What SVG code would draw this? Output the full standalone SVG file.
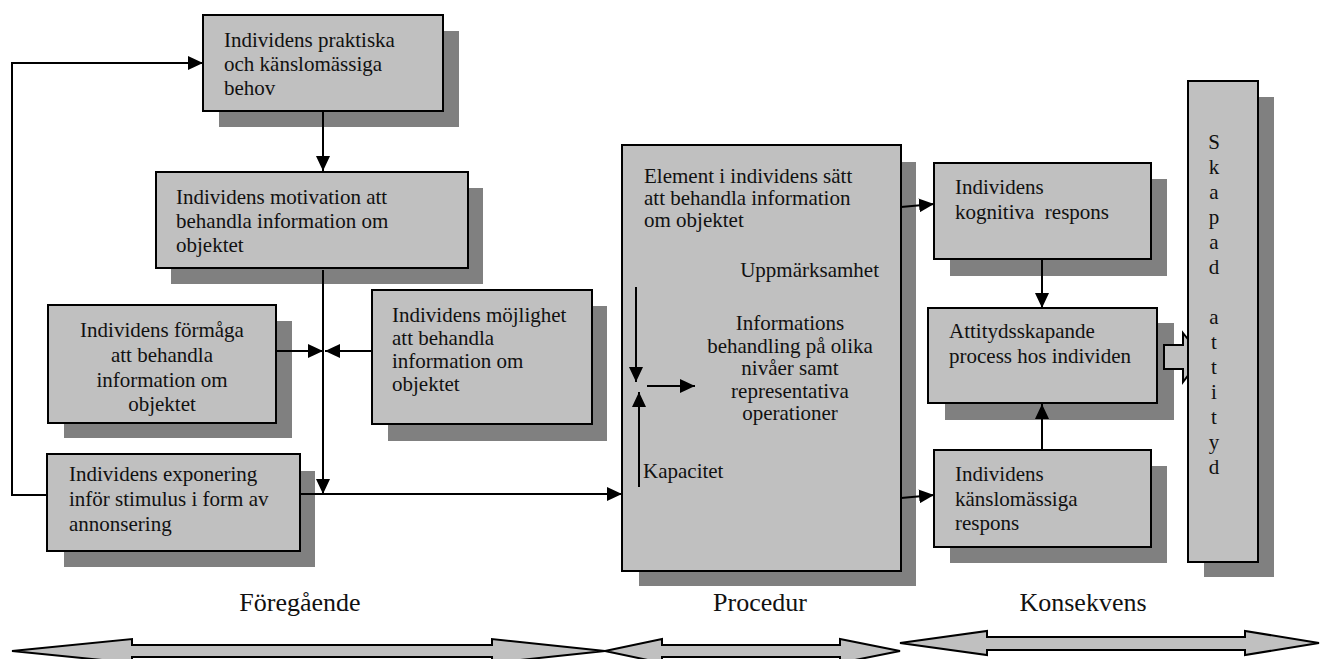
<svg xmlns="http://www.w3.org/2000/svg" width="1321" height="659" viewBox="0 0 1321 659">
<defs>
<marker id="ah" markerUnits="userSpaceOnUse" markerWidth="16" markerHeight="14" refX="15" refY="7" orient="auto">
<path d="M0,0 L15,7 L0,14 z" fill="#000"/>
</marker>
</defs>
<style>
.sh{fill:#808080;stroke:none}
.bx{fill:#c0c0c0;stroke:#000;stroke-width:2}
.t{font-family:"Liberation Serif","Times New Roman",serif;font-size:21px;fill:#111}
.lb{font-family:"Liberation Serif","Times New Roman",serif;font-size:26px;fill:#111}
.ln{fill:none;stroke:#000;stroke-width:2}
.ar{fill:none;stroke:#000;stroke-width:2;marker-end:url(#ah)}
.big{fill:#c0c0c0;stroke:#000;stroke-width:2;stroke-linejoin:miter}
</style>
<rect width="1321" height="659" fill="#fff"/>

<g id="node-behov">
<rect class="sh" x="219" y="31" width="240" height="96"/>
<rect class="bx" x="203" y="15" width="240" height="96"/>
<text class="t" x="224" y="47">Individens praktiska</text>
<text class="t" x="224" y="71">och känslomässiga</text>
<text class="t" x="224" y="95">behov</text>
</g>

<g id="node-motivation">
<rect class="sh" x="171" y="188" width="312" height="96"/>
<rect class="bx" x="156" y="172" width="312" height="96"/>
<text class="t" x="176" y="204">Individens motivation att</text>
<text class="t" x="176" y="228">behandla information om</text>
<text class="t" x="176" y="252">objektet</text>
</g>

<g id="node-formaga">
<rect class="sh" x="64" y="321" width="228" height="117"/>
<rect class="bx" x="48" y="305" width="228" height="118"/>
<text class="t" x="162" y="337" text-anchor="middle">Individens förmåga</text>
<text class="t" x="162" y="362" text-anchor="middle">att behandla</text>
<text class="t" x="162" y="387" text-anchor="middle">information om</text>
<text class="t" x="162" y="411" text-anchor="middle">objektet</text>
</g>

<g id="node-mojlighet">
<rect class="sh" x="388" y="306" width="219" height="135"/>
<rect class="bx" x="372" y="290" width="220" height="134"/>
<text class="t" x="392" y="322">Individens möjlighet</text>
<text class="t" x="392" y="345">att behandla</text>
<text class="t" x="392" y="368">information om</text>
<text class="t" x="392" y="391">objektet</text>
</g>

<g id="node-exponering">
<rect class="sh" x="64" y="471" width="251" height="96"/>
<rect class="bx" x="47" y="454" width="253" height="97"/>
<text class="t" x="69" y="481">Individens exponering</text>
<text class="t" x="69" y="506">inför stimulus i form av</text>
<text class="t" x="69" y="531">annonsering</text>
</g>

<g id="node-element">
<rect class="sh" x="639" y="162" width="277" height="424"/>
<rect class="bx" x="622" y="145" width="279" height="426"/>
<text class="t" x="644" y="183">Element i individens sätt</text>
<text class="t" x="644" y="205">att behandla information</text>
<text class="t" x="644" y="227">om objektet</text>
<text class="t" x="879" y="277" text-anchor="end">Uppmärksamhet</text>
<text class="t" x="790" y="330" text-anchor="middle">Informations</text>
<text class="t" x="790" y="353" text-anchor="middle">behandling på olika</text>
<text class="t" x="790" y="375" text-anchor="middle">nivåer samt</text>
<text class="t" x="790" y="398" text-anchor="middle">representativa</text>
<text class="t" x="790" y="420" text-anchor="middle">operationer</text>
<text class="t" x="643" y="478">Kapacitet</text>
</g>

<g id="node-kognitiva">
<rect class="sh" x="950" y="179" width="217" height="97"/>
<rect class="bx" x="934" y="163" width="217" height="96"/>
<text class="t" x="955" y="194">Individens</text>
<text class="t" x="955" y="219" xml:space="preserve">kognitiva  respons</text>
</g>

<g id="node-attityd-process">
<rect class="sh" x="945" y="323" width="229" height="97"/>
<rect class="bx" x="928" y="308" width="229" height="95"/>
<text class="t" x="949" y="338">Attitydsskapande</text>
<text class="t" x="949" y="363">process hos individen</text>
</g>

<g id="node-kanslomassiga">
<rect class="sh" x="950" y="466" width="217" height="97"/>
<rect class="bx" x="934" y="450" width="217" height="97"/>
<text class="t" x="955" y="481">Individens</text>
<text class="t" x="955" y="506">känslomässiga</text>
<text class="t" x="955" y="530">respons</text>
</g>

<g id="connectors">
<line class="ar" x1="323" y1="111" x2="323" y2="171"/>
<line class="ln" x1="323" y1="270" x2="323" y2="480"/>
<line class="ar" x1="323" y1="470" x2="323" y2="494"/>
<line class="ar" x1="276" y1="351" x2="323" y2="351"/>
<line class="ar" x1="372" y1="351" x2="325" y2="351"/>
<line class="ar" x1="300" y1="494" x2="622" y2="494"/>
<polyline class="ar" points="47,495 12,495 12,63 203,63"/>
<line class="ar" x1="636" y1="287" x2="636" y2="382"/>
<line class="ar" x1="639" y1="487" x2="639" y2="392"/>
<line class="ar" x1="647" y1="386" x2="695" y2="386"/>
<line class="ar" x1="901" y1="207" x2="934" y2="204"/>
<line class="ar" x1="901" y1="498" x2="934" y2="495"/>
<line class="ar" x1="1042" y1="259" x2="1042" y2="308"/>
<line class="ar" x1="1042" y1="450" x2="1042" y2="404"/>
<polygon class="big" points="1164,345 1183,345 1183,333 1202,357 1183,382 1183,369 1164,369"/>
</g>

<g id="node-skapad">
<rect class="sh" x="1204" y="97" width="70" height="480"/>
<rect class="bx" x="1188" y="81" width="70" height="481"/>
<text class="t" text-anchor="middle" x="1214" y="149">S</text>
<text class="t" text-anchor="middle" x="1214" y="174">k</text>
<text class="t" text-anchor="middle" x="1214" y="199">a</text>
<text class="t" text-anchor="middle" x="1214" y="224">p</text>
<text class="t" text-anchor="middle" x="1214" y="249">a</text>
<text class="t" text-anchor="middle" x="1214" y="274">d</text>
<text class="t" text-anchor="middle" x="1214" y="324">a</text>
<text class="t" text-anchor="middle" x="1214" y="349">t</text>
<text class="t" text-anchor="middle" x="1214" y="374">t</text>
<text class="t" text-anchor="middle" x="1214" y="399">i</text>
<text class="t" text-anchor="middle" x="1214" y="424">t</text>
<text class="t" text-anchor="middle" x="1214" y="449">y</text>
<text class="t" text-anchor="middle" x="1214" y="474">d</text>
</g>

<g id="phases">
<text class="lb" x="300" y="611" text-anchor="middle">Föregående</text>
<text class="lb" x="760" y="611" text-anchor="middle">Procedur</text>
<text class="lb" x="1083" y="611" text-anchor="middle">Konsekvens</text>
<polygon class="big" points="12,651 132,639 132,645 492,645 492,639 605,651 492,663 492,657 132,657 132,663"/>
<polygon class="big" points="605,651 662,639 662,645 840,645 840,639 900,651 840,663 840,657 662,657 662,663"/>
<polygon class="big" points="900,643 987,631 987,637 1245,637 1245,631 1319,643 1245,655 1245,650 987,650 987,655"/>
</g>
</svg>
